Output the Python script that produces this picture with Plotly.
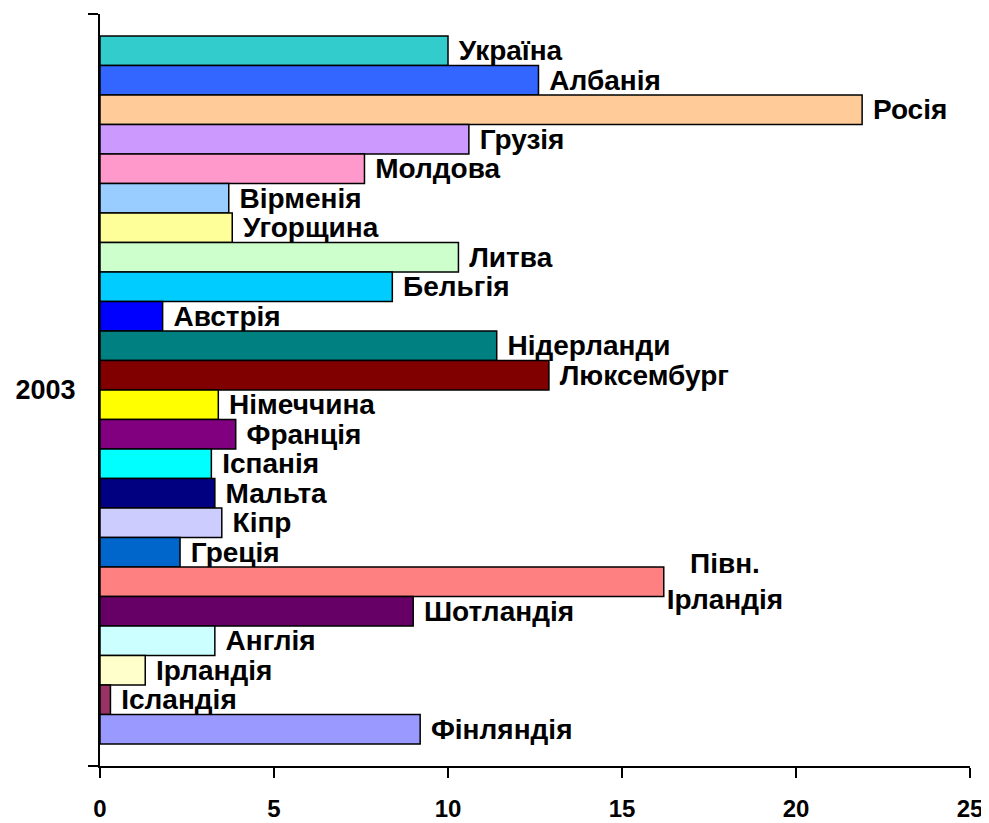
import plotly.graph_objects as go

category = ["2003"]
countries = ["Україна", "Албанія", "Росія", "Грузія", "Молдова", "Вірменія",
             "Угорщина", "Литва", "Бельгія", "Австрія", "Нідерланди", "Люксембург",
             "Німеччина", "Франція", "Іспанія", "Мальта", "Кіпр", "Греція",
             "Півн.<br>Ірландія", "Шотландія", "Англія", "Ірландія", "Ісландія", "Фінляндія"]
values = [10.0, 12.6, 21.9, 10.6, 7.6, 3.7,
          3.8, 10.3, 8.4, 1.8, 11.4, 12.9,
          3.4, 3.9, 3.2, 3.3, 3.5, 2.3,
          16.2, 9.0, 3.3, 1.3, 0.3, 9.2]
colors = ["#33CCCC", "#3366FF", "#FFCC99", "#CC99FF", "#FF99CC", "#99CCFF",
          "#FFFF99", "#CCFFCC", "#00CCFF", "#0000FF", "#008080", "#800000",
          "#FFFF00", "#800080", "#00FFFF", "#000080", "#CCCCFF", "#0066CC",
          "#FF8080", "#660066", "#CCFFFF", "#FFFFCC", "#993366", "#9999FF"]
x_ticks = [0, 5, 10, 15, 20, 25]

FONT = "Liberation Sans, Arial, sans-serif"

fig = go.Figure()
for name, v, c in zip(countries, values, colors):
    label = name if "<br>" in name else "\u00a0" + name
    fig.add_trace(go.Bar(
        y=category, x=[v], orientation="h", name=name.replace("<br>", " "),
        marker=dict(color=c, line=dict(color="black", width=1.5)),
        text=[label], textposition="outside", constraintext="none",
        cliponaxis=False,
        textfont=dict(family=FONT, size=28, color="black", weight="bold"),
        hoverinfo="x+name",
    ))

# page body has an 8px margin: figure is offset-compensated so the plot lands where the reference has it
fig.update_layout(
    width=981, height=815,
    margin=dict(l=92, r=19, t=6, b=57),
    paper_bgcolor="white", plot_bgcolor="white",
    barmode="group", bargap=0.0585, bargroupgap=0,
    showlegend=False,
    font=dict(family=FONT, color="black"),
)
fig.update_xaxes(
    range=[0, 25], tickvals=x_ticks, showgrid=False, zeroline=False,
    automargin=False,
    showline=True, linecolor="black", linewidth=2,
    ticks="outside", ticklen=10, tickwidth=2, tickcolor="black",
    tickfont=dict(family=FONT, size=24, color="black", weight="bold"),
    ticklabelstandoff=10,
)
fig.update_yaxes(
    autorange="reversed", showgrid=False, zeroline=False,
    automargin=False,
    showline=True, linecolor="black", linewidth=2,
    ticks="outside", tickson="boundaries", ticklen=10, tickwidth=2, tickcolor="black",
    tickfont=dict(family=FONT, size=27, color="black", weight="bold"),
    ticklabelstandoff=17,
)

fig.write_html("out.html")
